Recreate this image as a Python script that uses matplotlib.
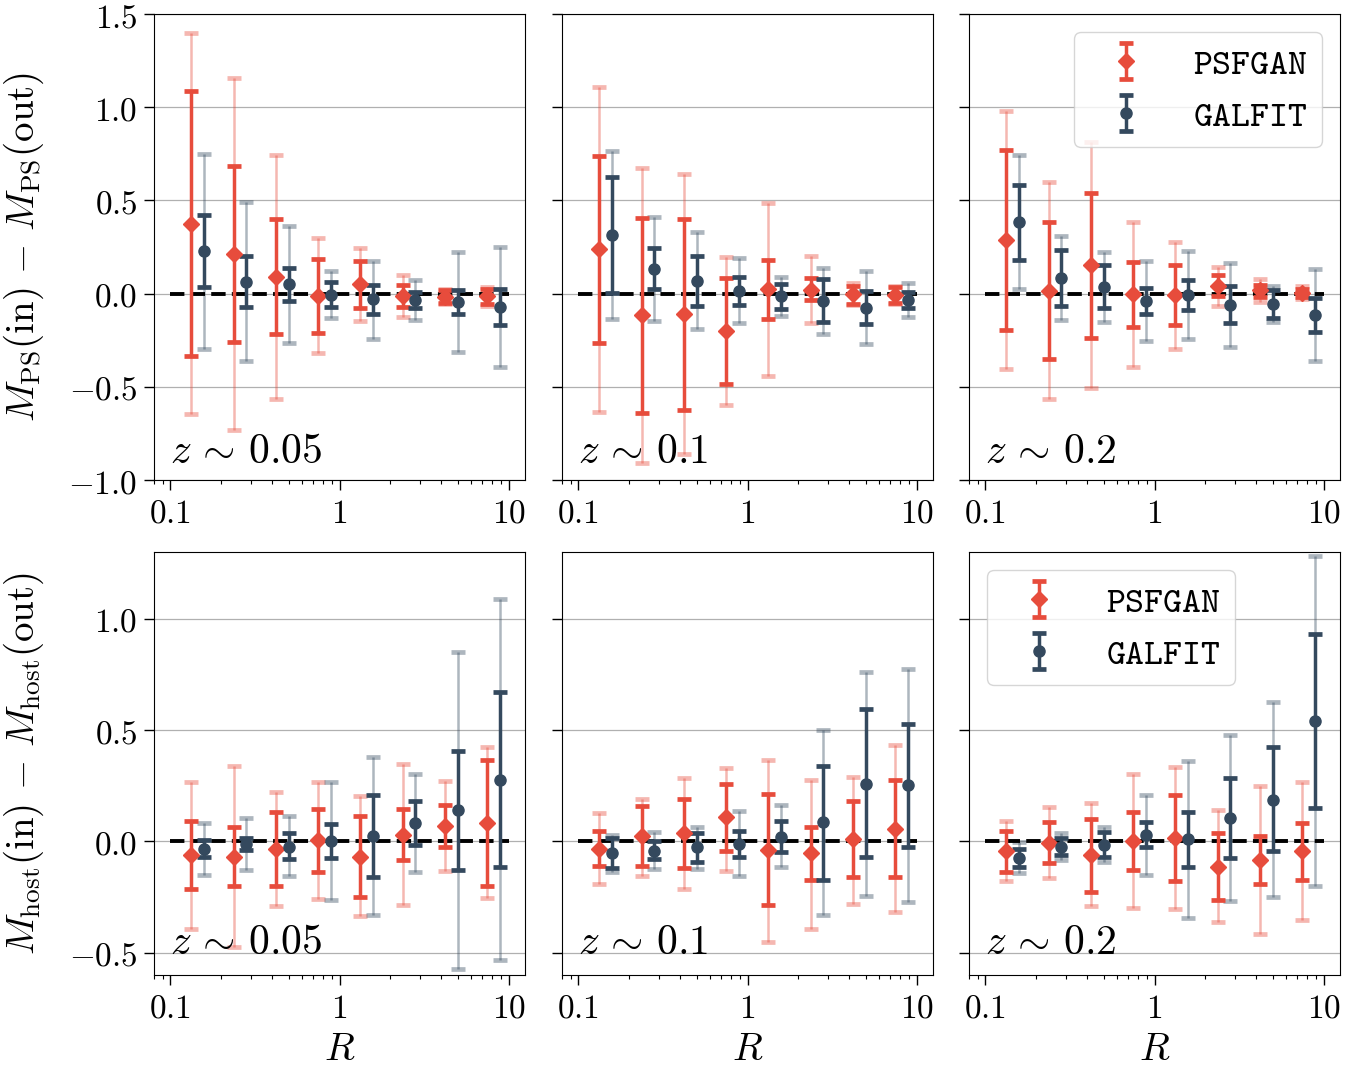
import numpy as np
import matplotlib
matplotlib.use("Agg")
import matplotlib.pyplot as plt
from matplotlib.ticker import FixedLocator, FixedFormatter, FuncFormatter, LogLocator, NullFormatter

plt.rcParams['mathtext.fontset'] = 'cm'
plt.rcParams['font.family'] = ['DejaVu Sans']

# ---------------- data ----------------
# R bin positions (PSFGAN and GALFIT are drawn slightly offset)
R_PSFGAN = [0.133, 0.237, 0.422, 0.750, 1.33, 2.37, 4.22, 7.50]
R_GALFIT = [0.158, 0.281, 0.500, 0.889, 1.58, 2.81, 5.00, 8.89]

REDSHIFTS = ['0.05', '0.1', '0.2']

# each array: rows = [median, 1sigma low, 1sigma high, 2sigma low, 2sigma high]
# --- point source magnitude residuals ---
PS_Z005_PSFGAN = [[0.373, 0.213, 0.089, -0.011, 0.050, -0.014, -0.018, -0.014],
                  [-0.334, -0.261, -0.218, -0.209, -0.077, -0.071, -0.048, -0.055],
                  [1.086, 0.686, 0.400, 0.188, 0.173, 0.046, 0.020, 0.027],
                  [-0.646, -0.734, -0.563, -0.318, -0.146, -0.127, -0.057, -0.066],
                  [1.400, 1.159, 0.743, 0.296, 0.243, 0.102, 0.027, 0.034]]
PS_Z005_GALFIT = [[0.227, 0.064, 0.050, -0.005, -0.030, -0.036, -0.045, -0.070],
                  [0.034, -0.071, -0.039, -0.070, -0.107, -0.079, -0.107, -0.168],
                  [0.421, 0.202, 0.139, 0.064, 0.046, 0.009, 0.021, 0.027],
                  [-0.295, -0.361, -0.263, -0.130, -0.241, -0.143, -0.311, -0.393],
                  [0.748, 0.491, 0.361, 0.121, 0.175, 0.071, 0.225, 0.252]]
PS_Z01_PSFGAN = [[0.238, -0.116, -0.111, -0.200, 0.023, 0.021, 0.000, -0.005],
                 [-0.264, -0.641, -0.623, -0.484, -0.136, -0.032, -0.054, -0.048],
                 [0.738, 0.404, 0.402, 0.086, 0.179, 0.082, 0.041, 0.034],
                 [-0.636, -0.907, -0.861, -0.596, -0.441, -0.157, -0.063, -0.057],
                 [1.111, 0.673, 0.643, 0.196, 0.486, 0.204, 0.059, 0.043]]
PS_Z01_GALFIT = [[0.313, 0.134, 0.068, 0.014, -0.014, -0.039, -0.075, -0.034],
                 [0.004, 0.027, -0.068, -0.061, -0.082, -0.154, -0.163, -0.077],
                 [0.625, 0.245, 0.204, 0.089, 0.050, 0.077, 0.016, 0.011],
                 [-0.138, -0.148, -0.189, -0.159, -0.121, -0.218, -0.271, -0.123],
                 [0.764, 0.413, 0.329, 0.189, 0.091, 0.139, 0.123, 0.057]]
PS_Z02_PSFGAN = [[0.288, 0.014, 0.152, -0.004, -0.009, 0.041, 0.018, 0.005],
                 [-0.196, -0.352, -0.236, -0.177, -0.171, -0.014, -0.016, -0.016],
                 [0.773, 0.384, 0.538, 0.170, 0.154, 0.100, 0.046, 0.027],
                 [-0.404, -0.568, -0.509, -0.393, -0.295, -0.064, -0.043, -0.027],
                 [0.982, 0.600, 0.811, 0.386, 0.279, 0.145, 0.077, 0.041]]
PS_Z02_GALFIT = [[0.382, 0.082, 0.036, -0.039, -0.005, -0.059, -0.054, -0.113],
                 [0.182, -0.066, -0.079, -0.111, -0.089, -0.159, -0.130, -0.205],
                 [0.582, 0.234, 0.154, 0.032, 0.071, 0.041, 0.021, -0.021],
                 [0.023, -0.141, -0.150, -0.255, -0.246, -0.286, -0.152, -0.359],
                 [0.741, 0.309, 0.223, 0.175, 0.230, 0.164, 0.041, 0.134]]
# --- host magnitude residuals ---
HOST_Z005_PSFGAN = [[-0.063, -0.069, -0.034, 0.005, -0.069, 0.028, 0.069, 0.084],
                    [-0.214, -0.202, -0.202, -0.138, -0.250, -0.085, -0.024, -0.198],
                    [0.090, 0.066, 0.133, 0.145, 0.115, 0.147, 0.165, 0.364],
                    [-0.394, -0.472, -0.291, -0.258, -0.337, -0.285, -0.133, -0.256],
                    [0.267, 0.337, 0.222, 0.267, 0.202, 0.348, 0.273, 0.426]]
HOST_Z005_GALFIT = [[-0.034, -0.011, -0.023, 0.003, 0.025, 0.082, 0.139, 0.277],
                    [-0.072, -0.039, -0.078, -0.075, -0.159, -0.015, -0.127, -0.117],
                    [0.005, 0.015, 0.036, 0.078, 0.210, 0.181, 0.406, 0.673],
                    [-0.150, -0.127, -0.157, -0.264, -0.331, -0.139, -0.571, -0.531],
                    [0.081, 0.103, 0.112, 0.268, 0.381, 0.303, 0.852, 1.087]]
HOST_Z01_PSFGAN = [[-0.033, 0.026, 0.038, 0.108, -0.038, -0.054, 0.009, 0.058],
                   [-0.111, -0.109, -0.118, -0.042, -0.285, -0.174, -0.160, -0.159],
                   [0.048, 0.160, 0.192, 0.256, 0.211, 0.067, 0.183, 0.274],
                   [-0.193, -0.154, -0.213, -0.132, -0.454, -0.393, -0.280, -0.316],
                   [0.127, 0.192, 0.285, 0.331, 0.367, 0.276, 0.289, 0.433]]
HOST_Z01_GALFIT = [[-0.054, -0.042, -0.027, -0.011, 0.021, 0.085, 0.259, 0.252],
                   [-0.118, -0.078, -0.091, -0.069, -0.046, -0.172, -0.072, -0.024],
                   [0.017, 0.003, 0.039, 0.045, 0.091, 0.340, 0.594, 0.529],
                   [-0.136, -0.123, -0.123, -0.157, -0.115, -0.331, -0.243, -0.270],
                   [0.031, 0.042, 0.067, 0.135, 0.162, 0.499, 0.763, 0.775]]
HOST_Z02_PSFGAN = [[-0.042, -0.005, -0.060, 0.002, 0.015, -0.114, -0.084, -0.045],
                   [-0.138, -0.097, -0.225, -0.129, -0.180, -0.262, -0.193, -0.172],
                   [0.049, 0.087, 0.102, 0.133, 0.207, 0.036, 0.023, 0.081],
                   [-0.180, -0.166, -0.291, -0.301, -0.303, -0.364, -0.417, -0.355],
                   [0.093, 0.154, 0.171, 0.304, 0.333, 0.141, 0.249, 0.265]]
HOST_Z02_GALFIT = [[-0.074, -0.024, -0.015, 0.030, 0.009, 0.105, 0.186, 0.541],
                   [-0.114, -0.063, -0.072, -0.027, -0.114, -0.075, -0.045, 0.151],
                   [-0.033, 0.017, 0.042, 0.085, 0.133, 0.285, 0.423, 0.931],
                   [-0.142, -0.082, -0.094, -0.150, -0.342, -0.268, -0.249, -0.198],
                   [-0.003, 0.037, 0.066, 0.208, 0.360, 0.477, 0.624, 1.282]]

PS_PANELS = [(PS_Z005_PSFGAN, PS_Z005_GALFIT), (PS_Z01_PSFGAN, PS_Z01_GALFIT), (PS_Z02_PSFGAN, PS_Z02_GALFIT)]
HOST_PANELS = [(HOST_Z005_PSFGAN, HOST_Z005_GALFIT), (HOST_Z01_PSFGAN, HOST_Z01_GALFIT), (HOST_Z02_PSFGAN, HOST_Z02_GALFIT)]

RED = '#e74c3c'
BLUE = '#34495e'

W, H = 1367, 1072
fig = plt.figure(figsize=(W / 100, H / 100), dpi=100)

col_left = [154, 562, 969]
ax_w = 371
rows = [dict(top=14, bottom=480, ylim=(-1.0, 1.5), yt=[-1.0, -0.5, 0.0, 0.5, 1.0, 1.5],
             ylabel=r'$M_{\mathrm{PS}}(\mathrm{in})\,-\,M_{\mathrm{PS}}(\mathrm{out})$', ztext_y=0.036,
             panels=PS_PANELS, legend_col=2, legend_loc='upper right'),
        dict(top=552, bottom=975, ylim=(-0.6, 1.3), yt=[-0.5, 0.0, 0.5, 1.0],
             ylabel=r'$M_{\mathrm{host}}(\mathrm{in})\,-\,M_{\mathrm{host}}(\mathrm{out})$', ztext_y=0.05,
             panels=HOST_PANELS, legend_col=2, legend_loc='upper left')]


def draw_series(ax, x, arr, color, marker, label):
    c = np.array(arr[0]); lo1 = np.array(arr[1]); hi1 = np.array(arr[2])
    lo2 = np.array(arr[3]); hi2 = np.array(arr[4])
    ax.errorbar(x, c, yerr=[c - lo2, hi2 - c], fmt='none', ecolor=color, alpha=0.4,
                elinewidth=1.8, capsize=5.3, capthick=3.4, zorder=2)
    h = ax.errorbar(x, c, yerr=[c - lo1, hi1 - c], fmt=marker, color=color, ms=8,
                    elinewidth=2.5, capsize=5.3, capthick=3.4, zorder=3, label=label)
    return h


for r, row in enumerate(rows):
    for ci in range(3):
        left = col_left[ci]
        ax = fig.add_axes([left / W, (H - row['bottom']) / H, ax_w / W, (row['bottom'] - row['top']) / H])
        psf, gal = row['panels'][ci]
        ax.plot([0.1, 10], [0, 0], ls='--', color='black', lw=2.8, zorder=2.5)
        h1 = draw_series(ax, R_PSFGAN, psf, RED, 'D', r'$\mathtt{PSFGAN}$')
        h2 = draw_series(ax, R_GALFIT, gal, BLUE, 'o', r'$\mathtt{GALFIT}$')
        ax.set_xscale('log')
        ax.set_xlim(0.08, 12.5)
        ax.set_ylim(*row['ylim'])
        ax.yaxis.set_major_locator(FixedLocator(row['yt']))
        ax.yaxis.grid(True, color='#b0b0b0', lw=0.9, zorder=0)
        ax.set_axisbelow(True)
        ax.xaxis.set_major_locator(FixedLocator([0.1, 1, 10]))
        ax.xaxis.set_major_formatter(FixedFormatter([r'$0.1$', r'$1$', r'$10$']))
        ax.xaxis.set_minor_locator(LogLocator(base=10, subs=np.arange(2, 10), numticks=20))
        ax.xaxis.set_minor_formatter(NullFormatter())
        ax.tick_params(axis='both', which='major', direction='out', length=7, width=1, labelsize=24, pad=5)
        ax.tick_params(axis='both', which='minor', direction='out', length=3, width=0.8)
        if ci == 0:
            ax.yaxis.set_major_formatter(FuncFormatter(lambda v, p: r'$%.1f$' % v))
            ax.set_ylabel(row['ylabel'], fontsize=28)
            ax.yaxis.set_label_coords(-0.29, 0.5)
        else:
            ax.yaxis.set_major_formatter(NullFormatter())
        if r == 1:
            ax.set_xlabel(r'$R$', fontsize=28)
            ax.xaxis.set_label_coords(0.5, -0.13)
        ax.text(0.043, row['ztext_y'], r'$z\,\sim\,%s$' % REDSHIFTS[ci], transform=ax.transAxes,
                fontsize=30, ha='left', va='baseline')
        if ci == row['legend_col']:
            ax.legend(handles=[h1, h2], loc=row['legend_loc'], fontsize=26, handlelength=2.1,
                      borderaxespad=0.5, framealpha=0.8)

fig.savefig('out.png', dpi=100)
